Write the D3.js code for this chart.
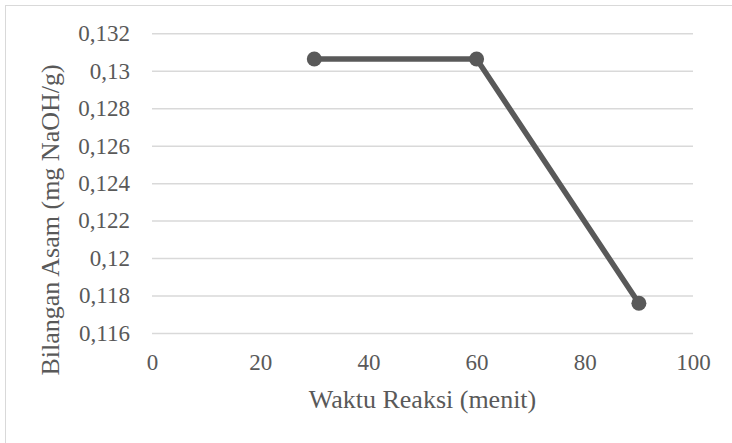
<!DOCTYPE html>
<html>
<head>
<meta charset="utf-8">
<script src="https://cdn.jsdelivr.net/npm/d3@7"></script>
<style>
  html, body { margin: 0; padding: 0; background: #fff; }
  svg { display: block; }
  svg text { font-family: "Liberation Serif", "Times New Roman", Tinos, "DejaVu Serif", serif; }
</style>
</head>
<body>
<svg id="chart" width="732" height="443"></svg>
<script>
const xValues = [30, 60, 90];
const yValues = [0.13063, 0.13063, 0.11759];
const xTicks = [0, 20, 40, 60, 80, 100];
const yTicks = [0.116, 0.118, 0.12, 0.122, 0.124, 0.126, 0.128, 0.13, 0.132];
const xTitle = "Waktu Reaksi (menit)";
const yTitle = "Bilangan Asam (mg NaOH/g)";

const svg = d3.select("#chart");
const textColor = "#595959";

// outer chart border
svg.append("rect")
  .attr("x", 5.5).attr("y", 5.5)
  .attr("width", 800).attr("height", 800)
  .attr("fill", "none").attr("stroke", "#d9d9d9").attr("stroke-width", 1);

const x = d3.scaleLinear().domain([0, 100]).range([152, 693]);
const y = d3.scaleLinear().domain([0.116, 0.132]).range([333, 33.3]);

const fmt = d => String(+d.toFixed(3)).replace(".", ",");

// gridlines + y tick labels
const yAxis = d3.axisLeft(y).tickValues(yTicks).tickSize(-(693 - 152)).tickPadding(22).tickFormat(fmt);
const gy = svg.append("g").attr("transform", "translate(152,0)").call(yAxis);
gy.attr("font-family", null).attr("font-size", null);
gy.select(".domain").remove();
gy.selectAll(".tick line").attr("stroke", "#d9d9d9").attr("stroke-width", 1.5);
gy.selectAll(".tick text")
  .attr("fill", textColor).style("font-size", "23px");

const xAxis = d3.axisBottom(x).tickValues(xTicks).tickSize(0).tickPadding(21).tickFormat(d => d);
const gx = svg.append("g").attr("transform", "translate(0,333)").call(xAxis);
gx.attr("font-family", null).attr("font-size", null);
gx.select(".domain").remove();
gx.selectAll(".tick text")
  .attr("fill", textColor).style("font-size", "23px");

// line
const data = xValues.map((v, i) => [v, yValues[i]]);
svg.append("path")
  .datum(data)
  .attr("fill", "none")
  .attr("stroke", "#595959")
  .attr("stroke-width", 5.5)
  .attr("stroke-linejoin", "round")
  .attr("d", d3.line().x(d => x(d[0])).y(d => y(d[1])));

svg.selectAll("circle.pt")
  .data(data).enter().append("circle")
  .attr("class", "pt")
  .attr("cx", d => x(d[0])).attr("cy", d => y(d[1]))
  .attr("r", 7.5)
  .attr("fill", "#595959");

// titles
svg.append("text")
  .attr("x", 422.5).attr("y", 408)
  .attr("text-anchor", "middle")
  .attr("fill", textColor).style("font-size", "26px")
  .text(xTitle);

svg.append("text")
  .attr("transform", "translate(59,220) rotate(-90)")
  .attr("text-anchor", "middle")
  .attr("fill", textColor).style("font-size", "26px")
  .text(yTitle);
</script>
</body>
</html>
